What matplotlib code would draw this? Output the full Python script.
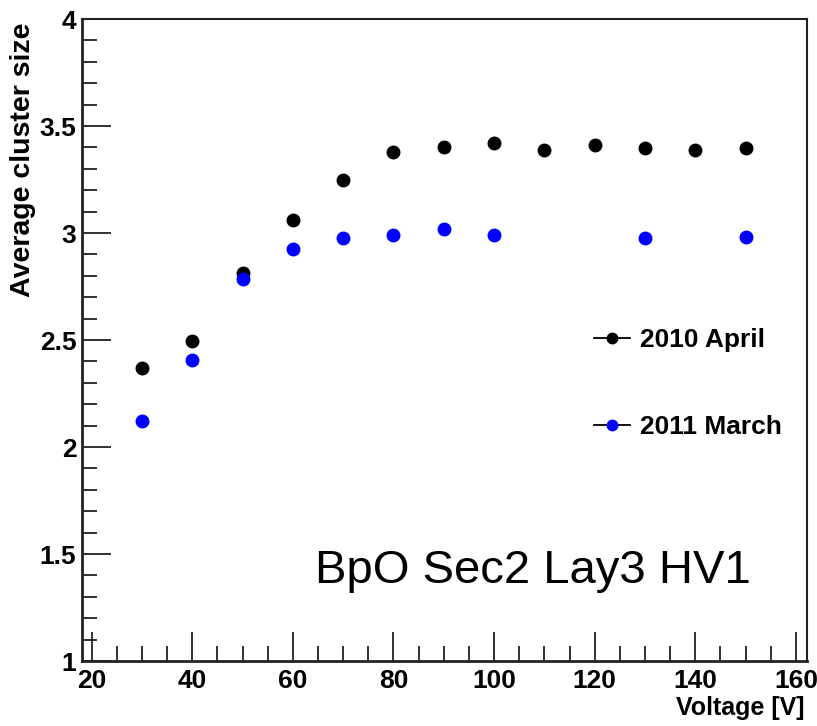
import matplotlib
matplotlib.use('Agg')
import matplotlib.pyplot as plt
from matplotlib.lines import Line2D
from matplotlib.ticker import MultipleLocator

plt.rcParams['font.family'] = ['Liberation Sans', 'DejaVu Sans']

voltage_2010 = [30, 40, 50, 60, 70, 80, 90, 100, 110, 120, 130, 140, 150]
size_2010 = [2.37, 2.495, 2.815, 3.06, 3.25, 3.38, 3.40, 3.42, 3.39, 3.41, 3.395, 3.39, 3.395]

voltage_2011 = [30, 40, 50, 60, 70, 80, 90, 100, 130, 150]
size_2011 = [2.12, 2.405, 2.785, 2.925, 2.975, 2.99, 3.02, 2.99, 2.975, 2.98]

labels = ['2010 April', '2011 March']

fig = plt.figure(figsize=(8.17, 7.26), dpi=100)
ax = fig.add_axes([0.1004, 0.0895, 0.8874, 0.8843])

ax.plot(voltage_2010, size_2010, 'o', color='black', markersize=9, linestyle='none')
ax.plot(voltage_2011, size_2011, 'o', color='blue', markersize=9, linestyle='none')

ax.set_xlim(18.1, 162.2)
ax.set_ylim(1, 4)
ax.xaxis.set_major_locator(MultipleLocator(20))
ax.xaxis.set_minor_locator(MultipleLocator(5))
ax.yaxis.set_major_locator(MultipleLocator(0.5))
ax.yaxis.set_minor_locator(MultipleLocator(0.1))
ax.yaxis.set_major_formatter(plt.FuncFormatter(lambda v, p: '%g' % v))

ax.tick_params(which='both', direction='in', top=False, right=False, width=1.3, color='#222222')
ax.tick_params(which='major', length=21)
ax.tick_params(which='minor', length=10.5)
ax.tick_params(axis='x', pad=6, labelsize=19)
ax.tick_params(axis='y', pad=4, labelsize=19)
for t in ax.get_xticklabels() + ax.get_yticklabels():
    t.set_fontweight('bold')

for s in ax.spines.values():
    s.set_linewidth(1.5)
    s.set_color('#222222')
ax.spines['left'].set_linewidth(2)
ax.spines['bottom'].set_linewidth(2)

ax.set_xlabel('Voltage [V]', fontsize=18, fontweight='bold', ha='right')
ax.xaxis.set_label_coords(0.996, -0.055)
ax.set_ylabel('Average cluster size', fontsize=20.5, fontweight='bold', ha='right')
ax.yaxis.set_label_coords(-0.063, 0.995)

handles = [Line2D([], [], color='black', lw=1.3, marker='o', mfc='black', mec='black', markersize=7.5),
           Line2D([], [], color='black', lw=1.3, marker='o', mfc='blue', mec='blue', markersize=7.5)]
leg = ax.legend(handles, labels, loc='upper left', bbox_to_anchor=(0.673, 0.556), frameon=False,
                prop={'size': 19, 'weight': 'bold'}, handlelength=1.36, handletextpad=0.38,
                labelspacing=2.4)

ax.text(0.322, 0.121, 'BpO Sec2 Lay3 HV1', transform=ax.transAxes, fontsize=34)

fig.savefig('out.png', dpi=100)
